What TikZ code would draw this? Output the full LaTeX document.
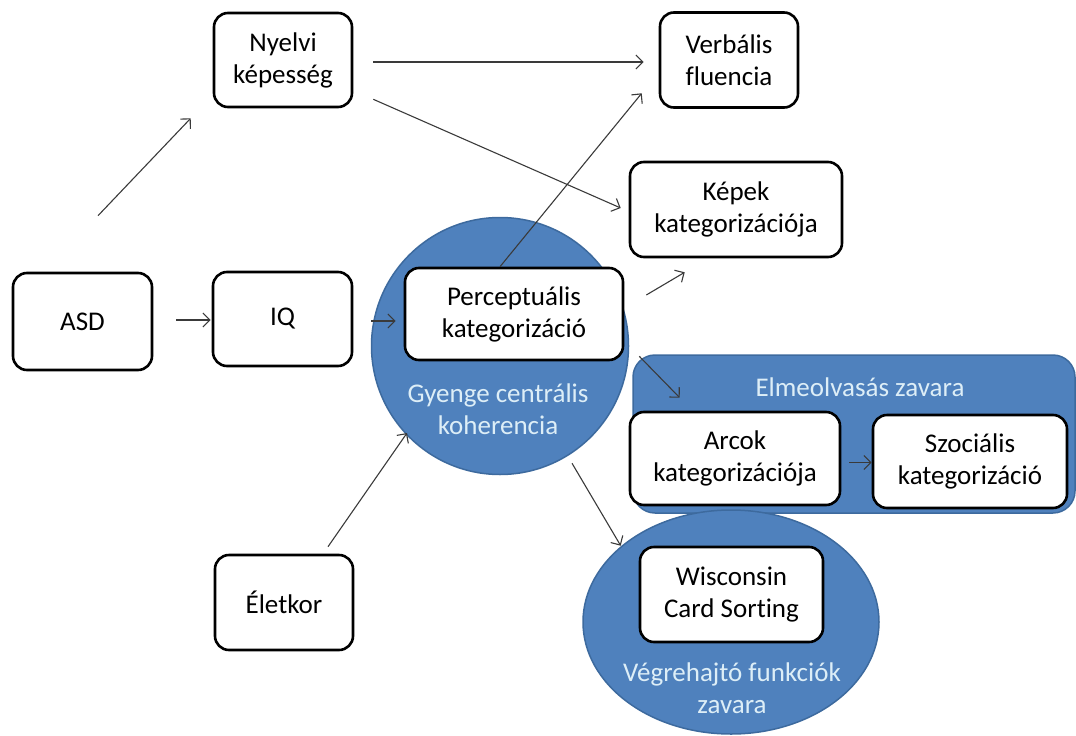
\documentclass[tikz,border=0pt]{standalone}
\usepackage{fontspec}
\setmainfont[Ligatures=NoCommon]{Carlito}
\usetikzlibrary{arrows.meta,shapes.geometric,calc}
\definecolor{groupblue}{HTML}{4F81BD}
\definecolor{groupedge}{HTML}{3D6A9E}
\definecolor{grouptext}{HTML}{DDEEF7}
\definecolor{arrowgray}{HTML}{3A3A3A}
\tikzset{
  box/.style={draw=black, line width=2.6pt, rounded corners=14pt, fill=white,
    align=center, inner sep=0pt, font=\fontsize{27}{32}\selectfont},
  group/.style={fill=groupblue, draw=groupedge, line width=1.5pt},
  grouplabel/.style={text=grouptext, align=center, font=\fontsize{27}{32}\selectfont},
  arr/.style={draw=arrowgray, line width=1.1pt, -{Straight Barb[length=7pt,width=14pt]}},
}
\begin{document}
\begin{tikzpicture}[x=1pt,y=-1pt]
\useasboundingbox (0,0) rectangle (1076,736);
\begin{scope}
\clip (0,0) rectangle (1076,736);
% grouping shapes
\node[group, rounded corners=22pt, minimum width=442pt, minimum height=158pt] (tom) at (854,434) {};
\node[group, circle, minimum size=257pt] (gcc) at (500,346) {};
\node[group, ellipse, minimum width=296pt, minimum height=224pt] (vfz) at (731,622) {};
\end{scope}
% group labels
\node[grouplabel] (gccl) at (498,409) {Gyenge centrális\\koherencia};
\node[grouplabel] (toml) at (860,387) {Elmeolvasás zavara};
\node[grouplabel] (vfzl) at (732,688) {Végrehajtó funkciók\\zavara};
% boxes
\node[box, minimum width=138pt, minimum height=94pt] (nyelvi) at (283,60) {Nyelvi\\képesség};
\node[box, minimum width=138pt, minimum height=95pt] (verb) at (729,60) {Verbális\\fluencia};
\node[box, minimum width=212pt, minimum height=95pt] (kep) at (736,209.5) {Képek\\kategorizációja};
\node[box, minimum width=139pt, minimum height=97pt] (asd) at (82.5,321.5) {ASD};
\node[box, minimum width=139pt, minimum height=94pt] (iq) at (282.5,319) {IQ};
\node[box, minimum width=218pt, minimum height=92pt] (perc) at (514,314) {Perceptuális\\kategorizáció};
\node[box, minimum width=210pt, minimum height=93pt] (arc) at (735,458.5) {Arcok\\kategorizációja};
\node[box, minimum width=194pt, minimum height=93pt] (szoc) at (970,461.5) {Szociális\\kategorizáció};
\node[box, minimum width=183pt, minimum height=95pt] (wisc) at (731.5,594.5) {Wisconsin\\Card Sorting};
\node[box, minimum width=138pt, minimum height=95pt] (elet) at (284,602.5) {Életkor};
% connectors
\draw[arr] ($(asd.north)+(15.5,-56)$) -- ($(nyelvi.south west)+(-22,10)$);
\draw[arr] ($(asd.east)+(23,-1.5)$) -- ($(iq.west)+(-1,1)$);
\draw[arr] ($(iq.east)+(18,2)$) -- ($(perc.west)+(-8,7)$);
\draw[arr] ($(elet.north)+(44,-7)$) -- ($(gcc.center)+(-93,87)$);
\draw[arr] ($(nyelvi.east)+(20,2)$) -- ($(verb.west)+(-15,2)$);
\draw[arr] ($(nyelvi.south east)+(20,-9)$) -- ($(kep.west)+(-8,-1.5)$);
\draw[arr] ($(perc.north)+(-14,0)$) -- ($(verb.south west)+(-17,-15.5)$);
\draw[arr] ($(perc.east)+(22,-19)$) -- ($(kep.south west)+(56,14)$);
\draw[arr] ($(perc.south east)+(15,-5)$) -- ($(arc.north west)+(51,-13)$);
\draw[arr] ($(arc.east)+(8,4)$) -- ($(szoc.west)+(0,1)$);
\draw[arr] ($(gcc.south)+(72,-12)$) -- ($(wisc.north west)+(-18,0)$);
\end{tikzpicture}
\end{document}
